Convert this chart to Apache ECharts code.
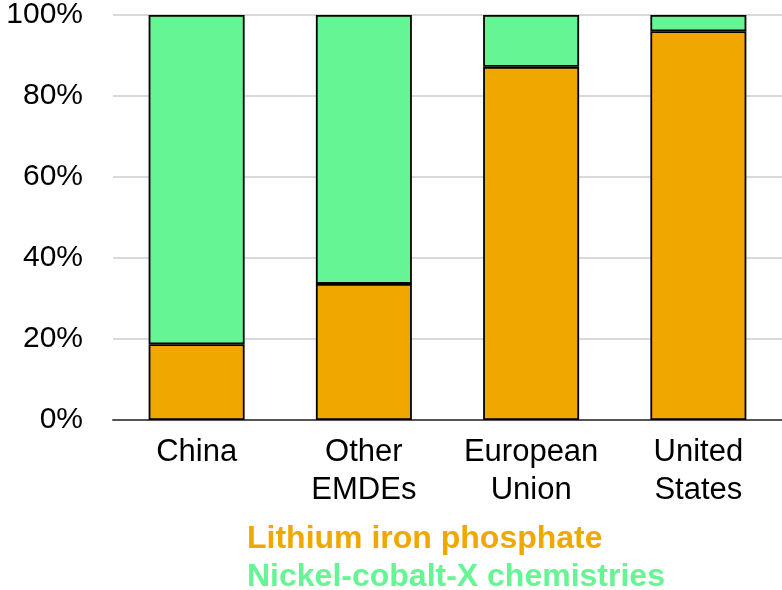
<!DOCTYPE html>
<html><head><meta charset="utf-8">
<script src="https://cdn.jsdelivr.net/npm/echarts@6/dist/echarts.min.js"></script>
<style>html,body{margin:0;padding:0;background:#fff}#c{width:782px;height:590px}</style>
</head><body><div id="c"></div>
<script>
var categories = ['China', 'Other\nEMDEs', 'European\nUnion', 'United\nStates'];
var lfp = [18.7, 33.6, 87.2, 96.0];
var ncx = [81.3, 66.4, 12.8, 4.0];
var seriesNames = ['Lithium iron phosphate', 'Nickel-cobalt-X chemistries'];
var colors = ['#F0A800', '#66F594'];
var yTicks = [0, 20, 40, 60, 80, 100];

var chart = echarts.init(document.getElementById('c'));
var font = 'Liberation Sans, Arial, sans-serif';
chart.setOption({
  animation: false,
  grid: {left: 113, width: 674, top: 15, bottom: 170, containLabel: false},
  legend: {
    orient: 'vertical', left: 242, top: 520, width: 500, height: 80,
    itemGap: 0, padding: 0,
    itemWidth: 0, itemHeight: 0, icon: 'none', selectedMode: false,
    data: [
      {name: seriesNames[0], textStyle: {color: colors[0]}},
      {name: seriesNames[1], textStyle: {color: colors[1]}}
    ],
    textStyle: {fontFamily: font, fontSize: 32, lineHeight: 38, fontWeight: 'bold', padding: 0}
  },
  xAxis: {
    type: 'category', data: categories,
    axisLine: {lineStyle: {color: '#555', width: 2}},
    axisTick: {show: false},
    axisLabel: {color: '#000', fontFamily: font, fontSize: 31, lineHeight: 38, margin: 13, interval: 0}
  },
  yAxis: {
    type: 'value', min: 0, max: 100, interval: 20,
    axisLine: {show: false}, axisTick: {show: false},
    splitLine: {lineStyle: {color: '#d9d9d9', width: 2}},
    axisLabel: {color: '#000', fontFamily: font, fontSize: 30, margin: 30,
      formatter: function (v) { return yTicks.indexOf(v) >= 0 ? v + '%' : ''; }}
  },
  series: [
    {name: seriesNames[0], type: 'bar', stack: 's', data: lfp, barWidth: 96,
     itemStyle: {color: colors[0], borderColor: '#000', borderWidth: 1.8}},
    {name: seriesNames[1], type: 'bar', stack: 's', data: ncx, barWidth: 96,
     itemStyle: {color: colors[1], borderColor: '#000', borderWidth: 1.8}}
  ]
});
</script></body></html>
